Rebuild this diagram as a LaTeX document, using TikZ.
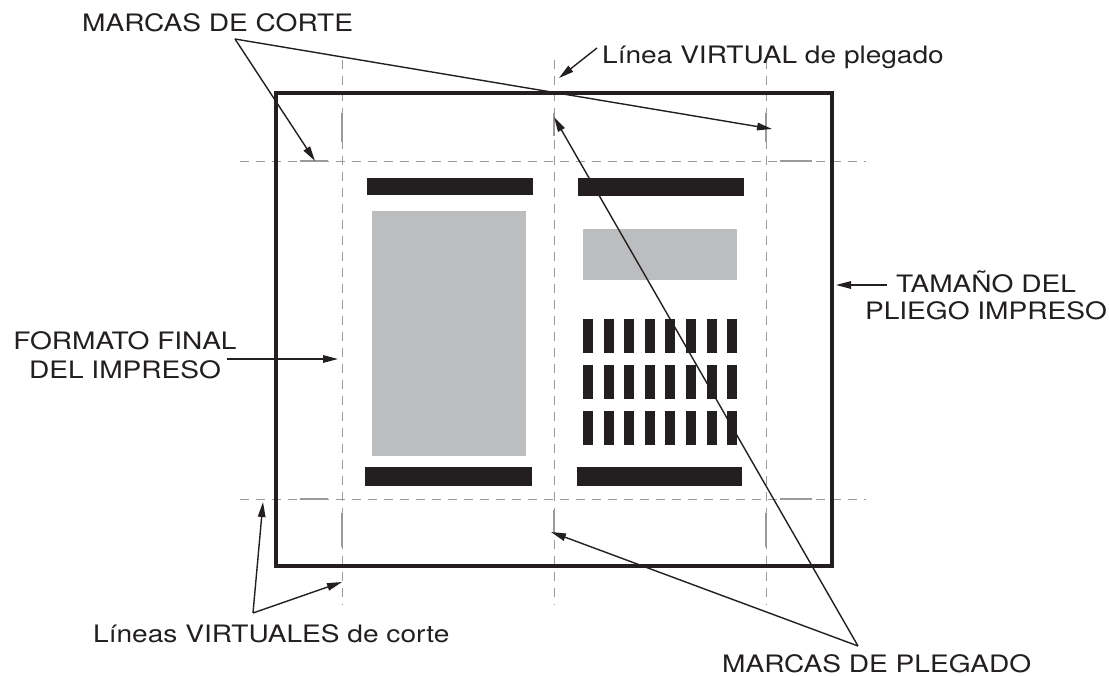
\documentclass[tikz,border=0pt]{standalone}
\usepackage{fontspec}
\setmainfont{TeX Gyre Heros}[FakeStretch=1.17]
\usetikzlibrary{arrows.meta}
\definecolor{barblack}{HTML}{231F20}
\definecolor{boxgray}{HTML}{BCBDBF}
\definecolor{guidegray}{HTML}{9A9A9A}
\begin{document}
\begin{tikzpicture}[x=1pt,y=-1pt,
  lbl/.style={inner sep=0pt,font=\fontsize{24}{28}\selectfont,text=barblack},
  guide/.style={draw=guidegray,line width=0.9pt,dash pattern=on 9pt off 7pt},
  tickmark/.style={draw=guidegray,line width=1.1pt},
  pointer/.style={draw=barblack,line width=1.4pt,-{Triangle[length=15pt,width=7.5pt]}},
  bar/.style={fill=barblack},
  gbox/.style={fill=boxgray}]
\useasboundingbox (0,0) rectangle (1109,676);
% guides
\draw[guide] (342,60) -- (342,605);
\draw[guide] (554,60) -- (554,605);
\draw[guide] (766,60) -- (766,605);
\draw[guide] (240,161) -- (866,161);
\draw[guide] (240,499) -- (866,499);
% crop and fold marks
\draw[tickmark] (300,161) -- (328,161);
\draw[tickmark] (780,161) -- (812,161);
\draw[tickmark] (300,499) -- (328,499);
\draw[tickmark] (780,499) -- (812,499);
\draw[tickmark] (342,113) -- (342,142);
\draw[tickmark] (342,513) -- (342,547);
\draw[tickmark] (766,113) -- (766,142);
\draw[tickmark] (766,513) -- (766,547);
\draw[tickmark] (554,113) -- (554,136);
\draw[tickmark] (554,510) -- (554,532);
% sheet
\draw[barblack,line width=3.3pt] (276,93) rectangle (832,566);
% content
\fill[bar] (367,178) rectangle (533,195);
\fill[bar] (578,178) rectangle (744,196);
\fill[bar] (365,467) rectangle (532,486);
\fill[bar] (577,467) rectangle (742,486);
\fill[gbox] (372,211) rectangle (526,456);
\fill[gbox] (583,229) rectangle (737,280);
\foreach \r in {319,365,411}{
  \foreach \c in {0,...,7}{
    \fill[bar] ({583+20.6*\c},\r) rectangle ({593+20.6*\c},{\r+34});
  }
}
% labels
\node[lbl,anchor=base west] (mc) at (82,32) {MARCAS DE CORTE};
\node[lbl,anchor=base west] (lv) at (602,64) {Línea VIRTUAL de plegado};
\node[lbl,align=center,anchor=north] (ff) at (125,331) {FORMATO FINAL\\[1pt]DEL IMPRESO};
\node[lbl,align=center,anchor=north] (tp) at (986,271) {TAMAÑO DEL\\[-1pt]PLIEGO IMPRESO};
\node[lbl,anchor=base west] (lc) at (93,642) {Líneas VIRTUALES de corte};
\node[lbl,anchor=base west] (mp) at (722,672) {MARCAS DE PLEGADO};
% pointer ends
\coordinate (mcA) at (235,39);
\coordinate (lvA) at (597,48);
\coordinate (ffA) at (227,359);
\coordinate (tpA) at (887,285);
\coordinate (lcA) at (253,613);
\coordinate (mpA) at (858,646);
\coordinate (c1) at (315,161);
\coordinate (c2) at (772,129);
\coordinate (f1) at (559,78);
\coordinate (ffT) at (338,359);
\coordinate (tpT) at (836,285);
\coordinate (l1) at (263,502);
\coordinate (l2) at (342,582);
\coordinate (p1) at (554,117);
\coordinate (p2) at (551,532);
\draw[pointer] (mcA) -- (c1);
\draw[pointer] (mcA) -- (c2);
\draw[pointer] (lvA) -- (f1);
\draw[pointer] (ffA) -- (ffT);
\draw[pointer] (tpA) -- (tpT);
\draw[pointer] (lcA) -- (l1);
\draw[pointer] (lcA) -- (l2);
\draw[pointer] (mpA) -- (p1);
\draw[pointer] (mpA) -- (p2);
\end{tikzpicture}
\end{document}
